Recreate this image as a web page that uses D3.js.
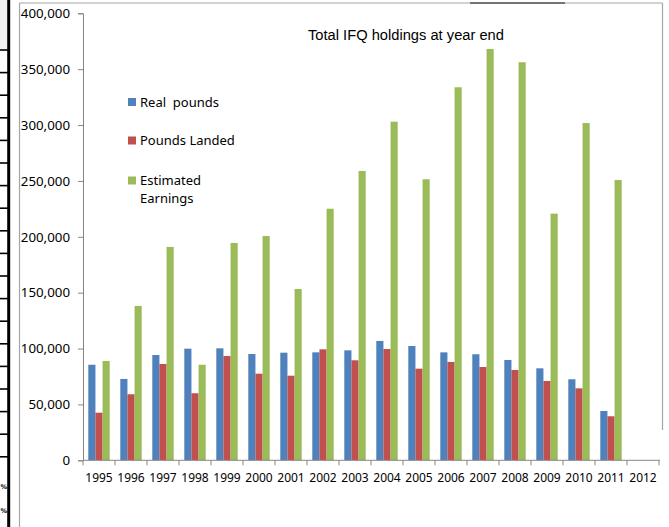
<!DOCTYPE html>
<html>
<head>
<meta charset="utf-8">
<script src="https://cdn.jsdelivr.net/npm/d3@7"></script>
<style>
  html, body { margin: 0; padding: 0; background: #fff; }
  svg { display: block; }
</style>
</head>
<body>
<svg id="chart" width="669" height="527"></svg>
<script>
// ---- data ----
const years = ["1995","1996","1997","1998","1999","2000","2001","2002","2003","2004","2005","2006","2007","2008","2009","2010","2011","2012"];
const seriesNames = ["Real  pounds", "Pounds Landed", "Estimated Earnings"];
const realPounds     = [85500, 72800, 94200, 99900, 100200, 95100, 96300, 96600, 98400, 106800, 102300, 96600, 94900, 89800, 82300, 72500, 44100, null];
const poundsLanded   = [42600, 59100, 86200, 60000, 93300, 77500, 75700, 99300, 89500, 99600, 82000, 88000, 83500, 80800, 71000, 64400, 39400, null];
const estEarnings    = [88900, 138100, 190900, 85500, 194500, 200700, 153300, 225100, 258900, 303000, 251500, 333800, 368100, 356200, 220700, 301800, 250800, null];
const yTicks = [0, 50000, 100000, 150000, 200000, 250000, 300000, 350000, 400000];
const titleText = "Total IFQ holdings at year end";
const colors = ["#4F81BD", "#C0504D", "#9BBB59"];

const seriesValues = [realPounds, poundsLanded, estEarnings];

const svg = d3.select("#chart");
const labelFont = "'Noto Sans', 'Open Sans', sans-serif";

// ---- surrounding page fragments ----
const deco = svg.append("g");
deco.append("rect").attr("x", 0).attr("y", 0).attr("width", 7).attr("height", 49).attr("fill", "#f2f2f2");
d3.range(19).forEach(k => {
  const yy = 50 + 22.6 * k;
  deco.append("line").attr("x1", 0).attr("x2", 9).attr("y1", yy).attr("y2", yy)
    .attr("stroke", "#000").attr("stroke-width", 1.6);
});
deco.append("line").attr("x1", 8.7).attr("x2", 8.7).attr("y1", 0).attr("y2", 527)
  .attr("stroke", "#000").attr("stroke-width", 3);
["%", "%"].forEach((t, i) => {
  deco.append("text").attr("x", 0.5).attr("y", 489 + i * 24)
    .attr("font-family", "'DejaVu Sans', sans-serif").attr("font-weight", "bold").attr("font-size", 6.5).text(t);
});
// chart frame
deco.append("line").attr("x1", 19.5).attr("x2", 19.5).attr("y1", 3).attr("y2", 527).attr("stroke", "#a6a6a6").attr("stroke-width", 1.2);
deco.append("line").attr("x1", 19.5).attr("x2", 662.5).attr("y1", 3).attr("y2", 3).attr("stroke", "#a6a6a6").attr("stroke-width", 1.2);
deco.append("line").attr("x1", 470).attr("x2", 565).attr("y1", 3).attr("y2", 3).attr("stroke", "#555").attr("stroke-width", 1.4);
deco.append("line").attr("x1", 662.5).attr("x2", 662.5).attr("y1", 3).attr("y2", 430).attr("stroke", "#a6a6a6").attr("stroke-width", 1.2);

// ---- scales ----
const x0 = d3.scaleBand().domain(years).range([83, 659]).paddingInner(0).paddingOuter(0);
const x1 = d3.scaleBand().domain(d3.range(3)).range([5.3, x0.bandwidth() - 5.3]).padding(0);
const y = d3.scaleLinear().domain([0, 400000]).range([460.3, 13.3]);

// ---- bars ----
const groups = svg.append("g").selectAll("g").data(years).join("g")
  .attr("transform", d => `translate(${x0(d)},0)`);
groups.selectAll("rect")
  .data((d, i) => seriesValues.map((arr, s) => ({ s, v: arr[i] })).filter(e => e.v != null))
  .join("rect")
  .attr("x", d => x1(d.s))
  .attr("width", x1.bandwidth())
  .attr("y", d => y(d.v))
  .attr("height", d => y(0) - y(d.v))
  .attr("fill", d => colors[d.s]);

// ---- axes ----
const axisColor = "#868686";
const yAxis = svg.append("g").attr("transform", "translate(83,0)")
  .call(d3.axisLeft(y).tickValues(yTicks).tickSize(5).tickPadding(8).tickFormat(d3.format(",")));
yAxis.select(".domain").attr("stroke", axisColor);
yAxis.selectAll(".tick line").attr("stroke", axisColor);
yAxis.selectAll(".tick text").attr("font-family", labelFont).attr("font-size", 13.3).attr("fill", "#000");

const xAxis = svg.append("g").attr("transform", `translate(0,${y(0)})`)
  .call(d3.axisBottom(x0).tickSize(0).tickPadding(13));
xAxis.select(".domain").attr("stroke", axisColor).attr("d", `M83,0H660`);
xAxis.selectAll(".tick text").attr("font-family", labelFont).attr("font-size", 12).attr("fill", "#000");
// category boundary ticks
xAxis.append("g").selectAll("line").data(years.concat(["end"])).join("line")
  .attr("x1", (d, i) => x0.range()[0] + i * x0.step())
  .attr("x2", (d, i) => x0.range()[0] + i * x0.step())
  .attr("y1", 0).attr("y2", 5).attr("stroke", axisColor);

// ---- title ----
svg.append("text").attr("x", 308).attr("y", 40)
  .attr("font-family", "'Liberation Sans', Arial, sans-serif").attr("font-size", 14.7)
  .attr("fill", "#000").text(titleText);

// ---- legend ----
const legendRows = [
  { lines: [seriesNames[0]], y: 106.5 },
  { lines: [seriesNames[1]], y: 145 },
  { lines: ["Estimated", "Earnings"], y: 185 }
];
const legend = svg.append("g");
legendRows.forEach((r, i) => {
  legend.append("rect").attr("x", 128).attr("y", r.y - 8.5).attr("width", 8).attr("height", 8).attr("fill", colors[i]);
  const t = legend.append("text").attr("x", 140).attr("y", r.y)
    .attr("font-family", labelFont).attr("font-size", 13).attr("fill", "#000")
    .style("white-space", "pre");
  r.lines.forEach((ln, j) => {
    t.append("tspan").attr("x", 140).attr("dy", j === 0 ? 0 : 18).text(ln);
  });
});
</script>
</body>
</html>
